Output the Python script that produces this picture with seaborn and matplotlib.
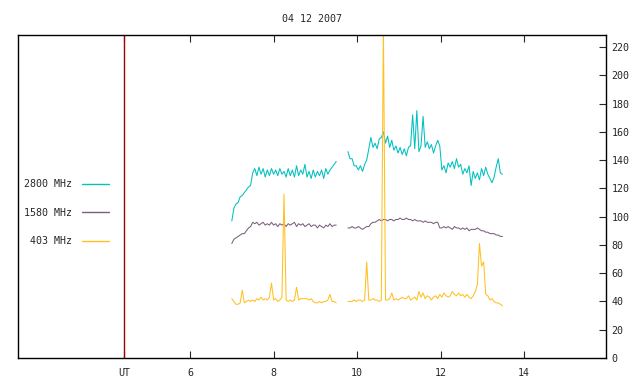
import seaborn as sns
import pandas as pd
import matplotlib.pyplot as plt

# sample times (UT hours) of the two recorded stretches
t_seg1 = [7.00, 7.05, 7.10, 7.15, 7.20, 7.25, 7.30, 7.35, 7.40, 7.45,
          7.50, 7.55, 7.60, 7.65, 7.70, 7.75, 7.80, 7.85, 7.90, 7.95,
          8.00, 8.05, 8.10, 8.15, 8.20, 8.25, 8.30, 8.35, 8.40, 8.45,
          8.50, 8.55, 8.60, 8.65, 8.70, 8.75, 8.80, 8.85, 8.90, 8.95,
          9.00, 9.05, 9.10, 9.15, 9.20, 9.25, 9.30, 9.35, 9.40, 9.45,
          9.50]
t_seg2 = [9.78, 9.83, 9.88, 9.93, 9.98, 10.03, 10.08, 10.13, 10.18, 10.23,
          10.28, 10.33, 10.38, 10.43, 10.48, 10.53, 10.58, 10.63, 10.68, 10.73,
          10.78, 10.83, 10.88, 10.93, 10.98, 11.03, 11.08, 11.13, 11.18, 11.23,
          11.28, 11.33, 11.38, 11.43, 11.48, 11.53, 11.58, 11.63, 11.68, 11.73,
          11.78, 11.83, 11.88, 11.93, 11.98, 12.03, 12.08, 12.13, 12.18, 12.23,
          12.28, 12.33, 12.38, 12.43, 12.48, 12.53, 12.58, 12.63, 12.68, 12.73,
          12.78, 12.83, 12.88, 12.93, 12.98, 13.03, 13.08, 13.13, 13.18, 13.23,
          13.28, 13.33, 13.38, 13.43, 13.48]

# 2800 MHz
f2800_seg1 = [97, 106, 109, 110, 114, 115, 117, 119, 121, 122,
              131, 134, 129, 135, 130, 134, 128, 133, 129, 134,
              130, 133, 129, 134, 130, 132, 128, 134, 129, 133,
              128, 136, 129, 133, 130, 137, 128, 132, 127, 133,
              128, 132, 129, 133, 127, 134, 130, 133, 135, 137,
              139]
f2800_seg2 = [146, 141, 141, 136, 136, 133, 136, 132, 137, 140,
              148, 156, 149, 152, 148, 155, 156, 160, 152, 157,
              149, 154, 147, 150, 145, 149, 144, 148, 143, 149,
              150, 172, 148, 175, 146, 150, 171, 149, 153, 148,
              151, 145, 150, 154, 150, 133, 136, 131, 138, 135,
              139, 134, 141, 135, 137, 130, 134, 131, 136, 122,
              132, 127, 131, 126, 134, 129, 135, 130, 127, 124,
              128, 135, 141, 131, 130]

# 1580 MHz
f1580_seg1 = [81, 84, 85, 86, 87, 88, 88, 90, 92, 93,
              96, 95, 96, 94, 95, 96, 94, 95, 94, 96,
              94, 95, 93, 95, 94, 95, 93, 95, 94, 95,
              96, 93, 95, 94, 95, 93, 94, 95, 93, 94,
              94, 92, 94, 93, 92, 94, 93, 95, 93, 94,
              94]
f1580_seg2 = [92, 92, 93, 92, 92, 93, 92, 91, 92, 93,
              93, 95, 96, 96, 97, 98, 97, 98, 98, 97,
              98, 98, 97, 98, 98, 99, 98, 98, 99, 98,
              98, 97, 98, 97, 97, 97, 96, 97, 96, 96,
              96, 95, 96, 96, 92, 92, 93, 92, 93, 92,
              91, 93, 92, 92, 91, 92, 91, 92, 90, 91,
              91, 91, 92, 91, 90, 90, 89, 89, 88, 88,
              88, 87, 87, 86, 86]

# 403 MHz
f403_seg1 = [42, 40, 38, 38, 39, 48, 39, 40, 41, 40,
             41, 40, 42, 41, 43, 41, 42, 41, 43, 53,
             41, 42, 40, 41, 43, 116, 41, 40, 41, 40,
             41, 50, 41, 42, 42, 42, 42, 41, 42, 40,
             39, 39, 40, 39, 40, 40, 41, 45, 40, 40,
             39]
f403_seg2 = [40, 40, 40, 41, 40, 41, 41, 40, 41, 68,
             41, 41, 42, 41, 41, 40, 41, 235, 41, 41,
             42, 46, 41, 42, 41, 42, 43, 42, 42, 44,
             41, 42, 43, 41, 47, 43, 46, 42, 44, 43,
             41, 43, 44, 42, 45, 43, 46, 44, 43, 44,
             47, 45, 44, 46, 44, 45, 43, 45, 43, 42,
             44, 47, 52, 81, 65, 68, 45, 44, 41, 42,
             40, 39, 39, 38, 37]

bands = ["2800 MHz", "1580 MHz", "403 MHz"]
colors = ["#00c0c0", "#7b5e7b", "#ffc020"]
marker_time = 4.43
yticks = [0, 20, 40, 60, 80, 100, 120, 140, 160, 180, 200, 220]
xticks = [marker_time, 6, 8, 10, 12, 14]
xlabels = ["UT", "6", "8", "10", "12", "14"]

rows = []
series = {"2800 MHz": (f2800_seg1, f2800_seg2),
          "1580 MHz": (f1580_seg1, f1580_seg2),
          "403 MHz": (f403_seg1, f403_seg2)}
for band, (s1, s2) in series.items():
    for seg, (tt, vv) in enumerate([(t_seg1, s1), (t_seg2, s2)]):
        for t, v in zip(tt, vv):
            rows.append({"t": t, "v": v, "band": band, "seg": seg})
df = pd.DataFrame(rows)

sns.set_style("white")
plt.rcParams["font.family"] = ["DejaVu Sans Mono"]
plt.rcParams["font.size"] = 7.2

fig = plt.figure(figsize=(6.4, 3.84), dpi=100)
ax = fig.add_axes([18 / 640, 1 - 358 / 384, 588 / 640, 323 / 384])

sns.lineplot(data=df, x="t", y="v", hue="band", units="seg", estimator=None,
             hue_order=bands, palette=colors, linewidth=0.75, sort=False,
             legend=False, ax=ax)
ax.axvline(marker_time, color="#a00000", linewidth=1.0)

ax.set_xlim(1.88, 15.96)
ax.set_ylim(0, 228.5)
ax.set_xticks(xticks)
ax.set_xticklabels(xlabels)
ax.set_yticks(yticks)
ax.yaxis.tick_right()
ax.tick_params(axis="x", direction="in", top=True, bottom=True, length=5,
               width=0.8, pad=7)
ax.tick_params(axis="y", direction="in", right=True, left=False,
               labelright=True, labelleft=False, length=5, width=0.8, pad=4)
ax.set_xlabel("")
ax.set_ylabel("")
for sp in ax.spines.values():
    sp.set_color("black")
    sp.set_linewidth(1.0)
ax.set_title("04 12 2007", fontsize=7.2, pad=9)

handles = [plt.Line2D([], [], color=c, linewidth=1.0) for c in colors]
labels = ["2800 MHz", "1580 MHz", " 403 MHz"]
ax.legend(handles, labels, loc="center left", bbox_to_anchor=(0.01, 0.449),
          frameon=False, markerfirst=False, handlelength=2.7,
          handletextpad=1.0, labelspacing=1.85, borderpad=0,
          borderaxespad=0, prop={"family": "DejaVu Sans Mono", "size": 7.2})

fig.savefig("out.png", dpi=100)
